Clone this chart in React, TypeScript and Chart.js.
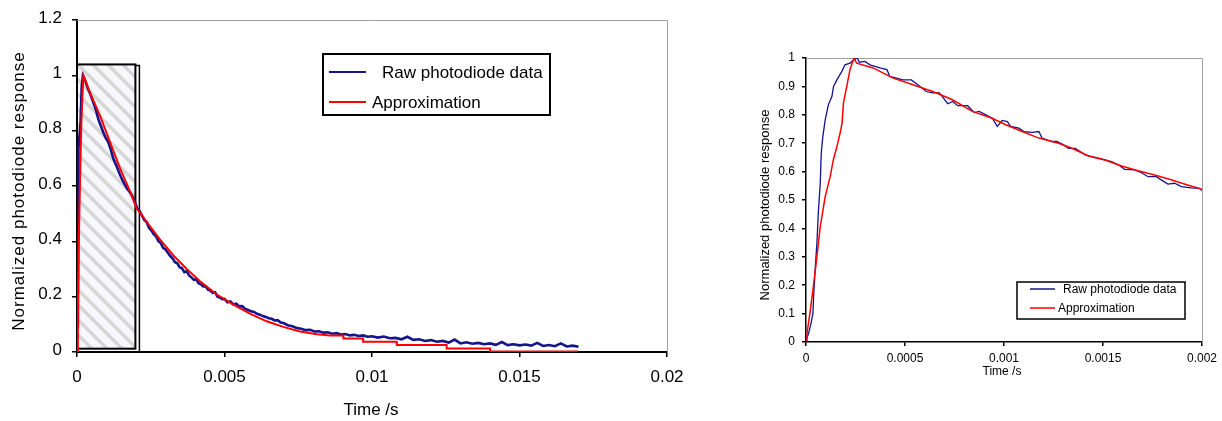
import React, { useEffect, useRef } from 'react';
import { Chart, registerables } from 'chart.js';

Chart.register(...registerables);

const FONT = "'Liberation Sans', Arial, sans-serif";
const RAW_COLOR = '#14148c';
const APPROX_COLOR = '#ff0000';

const seriesLabels = ['Raw photodiode data', 'Approximation'];
const xTitle = 'Time /s';
const yTitle = 'Normalized photodiode response';

// ---------- Left chart (full decay) ----------
const leftXTicks = [0, 0.005, 0.01, 0.015, 0.02];
const leftXTickLabels = ['0', '0.005', '0.01', '0.015', '0.02'];
const leftYTicks = [0, 0.2, 0.4, 0.6, 0.8, 1, 1.2];
const leftYTickLabels = ['0', '0.2', '0.4', '0.6', '0.8', '1', '1.2'];

const leftRawT = [
  0.00003, 0.00004, 0.00005, 0.00012, 0.00016, 0.0002, 0.00025, 0.00038, 0.00046, 0.00055,
  0.00063, 0.00072, 0.0008, 0.00089, 0.00097, 0.00106, 0.00115, 0.00123, 0.00135, 0.00146,
  0.00157, 0.00169, 0.00178, 0.00185, 0.00195, 0.00204,
  0.00212, 0.0022, 0.00228, 0.00236, 0.00244, 0.00252, 0.0026, 0.00268, 0.00276, 0.00284,
  0.00292, 0.003, 0.00308, 0.00316, 0.00324, 0.00332, 0.0034, 0.00348, 0.00356, 0.00364,
  0.00372, 0.0038, 0.00388, 0.00396, 0.00404, 0.00412, 0.0042, 0.00428, 0.00436, 0.00444,
  0.00452, 0.0046, 0.00468, 0.00476, 0.00484, 0.00492, 0.005,
  0.0051, 0.0052, 0.0053, 0.0054, 0.0055, 0.0056, 0.0057, 0.0058, 0.0059, 0.006,
  0.0061, 0.0062, 0.0063, 0.0064, 0.0065, 0.0066, 0.0067, 0.0068, 0.0069, 0.007,
  0.00715, 0.0073, 0.00745, 0.0076, 0.00775, 0.0079, 0.00805, 0.0082, 0.00835, 0.0085,
  0.00865, 0.0088, 0.00895, 0.0091, 0.00925, 0.0094, 0.00955, 0.0097, 0.00985, 0.01,
  0.0102, 0.0104, 0.0106, 0.0108, 0.011, 0.0112, 0.0114, 0.0116, 0.0118, 0.012,
  0.0122, 0.0124, 0.0126, 0.0128, 0.013, 0.0132, 0.0134, 0.0136, 0.0138, 0.014,
  0.0142, 0.0144, 0.0146, 0.0148, 0.015, 0.0152, 0.0154, 0.0156, 0.0158, 0.016,
  0.0162, 0.0164, 0.0166, 0.0168, 0.017,
];
const leftRawV = [
  0.086, 0.41, 0.735, 0.83, 0.96, 1.0, 0.99, 0.95, 0.93, 0.903,
  0.88, 0.843, 0.82, 0.795, 0.775, 0.759, 0.73, 0.7, 0.67, 0.64,
  0.615, 0.592, 0.58, 0.568, 0.545, 0.52,
  0.51, 0.494, 0.478, 0.47, 0.449, 0.44, 0.426, 0.418, 0.401, 0.394,
  0.377, 0.371, 0.359, 0.347, 0.339, 0.325, 0.321, 0.307, 0.303, 0.289,
  0.292, 0.277, 0.27, 0.261, 0.263, 0.249, 0.245, 0.237, 0.238, 0.225,
  0.222, 0.214, 0.216, 0.201, 0.197, 0.191, 0.192,
  0.18, 0.183, 0.172, 0.175, 0.165, 0.166, 0.156, 0.152, 0.147, 0.145,
  0.138, 0.135, 0.13, 0.127, 0.122, 0.12, 0.114, 0.115, 0.107, 0.105,
  0.097, 0.093, 0.087, 0.084, 0.079, 0.08, 0.074, 0.075, 0.07, 0.071,
  0.066, 0.068, 0.063, 0.065, 0.06, 0.062, 0.058, 0.06, 0.055, 0.057,
  0.052, 0.056, 0.05, 0.051, 0.046, 0.055, 0.044, 0.046, 0.04, 0.043,
  0.037, 0.04, 0.034, 0.045, 0.031, 0.035, 0.03, 0.033, 0.028, 0.031,
  0.026, 0.036, 0.025, 0.028, 0.024, 0.027, 0.023, 0.033, 0.022, 0.025,
  0.021, 0.031, 0.02, 0.023, 0.019,
];

const leftApproxT = [
  0, 0.00003, 0.00006, 0.0001, 0.00014, 0.00018, 0.00022, 0.00044, 0.00078, 0.00112,
  0.00146, 0.0018, 0.00202, 0.00236, 0.00281, 0.00326, 0.00372, 0.00417, 0.00474, 0.0053,
  0.00586, 0.00643, 0.00699, 0.00756, 0.00813, 0.00858, 0.00903, 0.00903, 0.0097, 0.0097,
  0.01084, 0.01084, 0.01253, 0.01253, 0.014, 0.014, 0.01698,
];
const leftApproxV = [
  0, 0.15, 0.4, 0.6, 0.8, 0.92, 1.0, 0.938, 0.855, 0.759,
  0.664, 0.58, 0.52, 0.471, 0.407, 0.35, 0.3, 0.256, 0.208, 0.171,
  0.139, 0.111, 0.091, 0.074, 0.064, 0.06, 0.06, 0.049, 0.049, 0.037,
  0.037, 0.025, 0.025, 0.013, 0.013, 0.002, 0.002,
];

// highlighted zoom window (in data units)
const zoomWindowX = [0, 0.00198];
const zoomWindowY = [0.012, 1.04];

// ---------- Right chart (first 2 ms) ----------
const rightXTicks = [0, 0.0005, 0.001, 0.0015, 0.002];
const rightXTickLabels = ['0', '0.0005', '0.001', '0.0015', '0.002'];
const rightYTicks = [0, 0.1, 0.2, 0.3, 0.4, 0.5, 0.6, 0.7, 0.8, 0.9, 1];
const rightYTickLabels = ['0', '0.1', '0.2', '0.3', '0.4', '0.5', '0.6', '0.7', '0.8', '0.9', '1'];

const rightRawT = [
  0, 0.000013, 0.000025, 0.000035, 0.000038, 0.000043, 0.000047, 0.000055, 0.000063, 0.000072,
  0.000077, 0.000085, 0.000097, 0.000113, 0.000131, 0.000139, 0.000156, 0.000181, 0.000197, 0.000222,
  0.000247, 0.000259, 0.000269, 0.000298, 0.000323, 0.000373, 0.000409, 0.000423, 0.000457, 0.00049,
  0.000532, 0.000565, 0.000607, 0.00064, 0.000674, 0.000716, 0.000741, 0.000766, 0.000816, 0.00085,
  0.000875, 0.000908, 0.000941, 0.000966, 0.000991, 0.001017, 0.001034, 0.001075, 0.0011, 0.001142,
  0.001176, 0.001192, 0.001242, 0.001267, 0.001301, 0.001326, 0.00136, 0.00141, 0.001443, 0.001476,
  0.00151, 0.001543, 0.001577, 0.00161, 0.00166, 0.001694, 0.001728, 0.001769, 0.001794, 0.001828,
  0.001862, 0.001895, 0.001945, 0.001987, 0.002,
];
const rightRawV = [
  0.005, 0.03, 0.065, 0.1, 0.153, 0.218, 0.265, 0.347, 0.465, 0.559,
  0.665, 0.723, 0.782, 0.835, 0.865, 0.9, 0.923, 0.953, 0.976, 0.982,
  0.996, 1.0, 0.985, 0.988, 0.976, 0.965, 0.959, 0.935, 0.929, 0.923,
  0.923, 0.906, 0.882, 0.877, 0.877, 0.839, 0.847, 0.832, 0.832, 0.808,
  0.812, 0.8, 0.788, 0.759, 0.78, 0.776, 0.759, 0.753, 0.741, 0.738,
  0.741, 0.718, 0.706, 0.706, 0.694, 0.682, 0.682, 0.659, 0.653, 0.647,
  0.641, 0.635, 0.624, 0.608, 0.606, 0.596, 0.582, 0.582, 0.571, 0.556,
  0.559, 0.547, 0.543, 0.541, 0.533,
];

const rightApproxT = [
  0, 0.000005, 0.000022, 0.000038, 0.000055, 0.000072, 0.000097, 0.000122, 0.000138, 0.000156,
  0.000172, 0.000182, 0.000189, 0.000206, 0.000222, 0.000242, 0.000256, 0.000339, 0.00044, 0.00054,
  0.00064, 0.00074, 0.00084, 0.00094, 0.001009, 0.001092, 0.001176, 0.001276, 0.001343, 0.001427,
  0.00151, 0.001594, 0.001677, 0.001761, 0.001844, 0.001927, 0.002,
];
const rightApproxV = [
  0.005, 0.03, 0.112, 0.2, 0.3, 0.406, 0.512, 0.582, 0.641, 0.688,
  0.735, 0.77, 0.841, 0.9, 0.959, 1.0, 0.982, 0.965, 0.929, 0.906,
  0.882, 0.853, 0.812, 0.788, 0.765, 0.741, 0.718, 0.7, 0.682, 0.655,
  0.641, 0.62, 0.603, 0.588, 0.571, 0.553, 0.538,
];

const toPoints = (t: number[], v: number[]) => t.map((x, i) => ({ x, y: v[i] }));

// ---------- plugins ----------
function framePlugin(color: string) {
  return {
    id: 'frame',
    beforeDatasetsDraw(chart: any) {
      const { ctx, chartArea: a } = chart;
      ctx.save();
      ctx.strokeStyle = color;
      ctx.lineWidth = 1;
      ctx.beginPath();
      ctx.moveTo(a.left, Math.round(a.top) + 0.5);
      ctx.lineTo(Math.round(a.right) + 0.5, Math.round(a.top) + 0.5);
      ctx.lineTo(Math.round(a.right) + 0.5, a.bottom);
      ctx.stroke();
      ctx.restore();
    },
  };
}

function hatchPlugin(xr: number[], yr: number[]) {
  return {
    id: 'hatchBox',
    beforeDatasetsDraw(chart: any) {
      const { ctx, scales } = chart;
      const l = scales.x.getPixelForValue(xr[0]);
      const r = scales.x.getPixelForValue(xr[1]);
      const t = scales.y.getPixelForValue(yr[1]);
      const b = scales.y.getPixelForValue(yr[0]);
      ctx.save();
      // shadow
      ctx.strokeStyle = '#000';
      ctx.lineWidth = 1.5;
      ctx.beginPath();
      ctx.moveTo(r, t + 1);
      ctx.lineTo(r + 4, t + 1);
      ctx.lineTo(r + 4, b + 4);
      ctx.stroke();
      // fill
      ctx.fillStyle = '#f8f8fc';
      ctx.fillRect(l, t, r - l, b - t);
      // stripes
      ctx.save();
      ctx.beginPath();
      ctx.rect(l, t, r - l, b - t);
      ctx.clip();
      ctx.strokeStyle = '#d6d6d6';
      ctx.lineWidth = 3.5;
      const h = b - t;
      for (let s = l - h; s < r + 15; s += 15) {
        ctx.beginPath();
        ctx.moveTo(s, t);
        ctx.lineTo(s + h, b);
        ctx.stroke();
      }
      ctx.restore();
      ctx.strokeStyle = '#000';
      ctx.lineWidth = 2;
      ctx.strokeRect(l, t, r - l, b - t);
      ctx.restore();
    },
  };
}

interface LegendSpec {
  box: [number, number, number, number];
  lineX: [number, number];
  rowY: number[];
  textX: number[];
  fontSize: number;
  borderWidth: number;
  lineWidth: number;
}

function boxLegendPlugin(spec: LegendSpec) {
  return {
    id: 'boxLegend',
    afterDraw(chart: any) {
      const { ctx } = chart;
      const [bx, by, bw, bh] = spec.box;
      ctx.save();
      ctx.fillStyle = '#fff';
      ctx.fillRect(bx, by, bw, bh);
      ctx.strokeStyle = '#000';
      ctx.lineWidth = spec.borderWidth;
      ctx.strokeRect(bx, by, bw, bh);
      chart.data.datasets.forEach((ds: any, i: number) => {
        ctx.strokeStyle = ds.borderColor;
        ctx.lineWidth = spec.lineWidth;
        ctx.beginPath();
        ctx.moveTo(spec.lineX[0], spec.rowY[i]);
        ctx.lineTo(spec.lineX[1], spec.rowY[i]);
        ctx.stroke();
        ctx.fillStyle = '#000';
        ctx.font = `${spec.fontSize}px ${FONT}`;
        ctx.textAlign = 'left';
        ctx.textBaseline = 'middle';
        ctx.fillText(ds.label, spec.textX[i], spec.rowY[i] + 1);
      });
      ctx.restore();
    },
  };
}

interface TitleSpec {
  x: { cx: number; cy: number; size: number };
  y: { cx: number; cy: number; size: number; spacing: number };
}

function titlesPlugin(spec: TitleSpec) {
  return {
    id: 'axisTitles',
    afterDraw(chart: any) {
      const { ctx } = chart;
      ctx.save();
      ctx.fillStyle = '#000';
      ctx.textAlign = 'center';
      ctx.textBaseline = 'middle';
      ctx.font = `${spec.x.size}px ${FONT}`;
      ctx.fillText(xTitle, spec.x.cx, spec.x.cy);
      ctx.translate(spec.y.cx, spec.y.cy);
      ctx.rotate(-Math.PI / 2);
      ctx.font = `${spec.y.size}px ${FONT}`;
      (ctx as any).letterSpacing = `${spec.y.spacing}px`;
      ctx.fillText(yTitle, 0, 0);
      ctx.restore();
    },
  };
}

interface ChartSpec {
  width: number;
  height: number;
  area: { left: number; top: number; right: number; bottom: number };
  xTicks: number[];
  xLabels: string[];
  yTicks: number[];
  yLabels: string[];
  xMax: number;
  yMax: number;
  raw: { x: number; y: number }[];
  approx: { x: number; y: number }[];
  fontSize: number;
  tickLength: number;
  yPad: number;
  yLabelOffset: number;
  xPad: number;
  axisWidth: number;
  rawWidth: number;
  approxWidth: number;
  plugins: any[];
}

function buildConfig(s: ChartSpec): any {
  const tickFont = { family: FONT, size: s.fontSize };
  return {
    type: 'line',
    data: {
      datasets: [
        {
          label: seriesLabels[0],
          data: s.raw,
          borderColor: RAW_COLOR,
          borderWidth: s.rawWidth,
          pointRadius: 0,
          tension: 0,
          order: 2,
        },
        {
          label: seriesLabels[1],
          data: s.approx,
          borderColor: APPROX_COLOR,
          borderWidth: s.approxWidth,
          pointRadius: 0,
          tension: 0,
          order: 1,
        },
      ],
    },
    options: {
      responsive: false,
      animation: false,
      devicePixelRatio: 1,
      layout: {
        padding: { left: 0, top: s.area.top, right: s.width - s.area.right, bottom: 0 },
      },
      plugins: { legend: { display: false }, tooltip: { enabled: false } },
      scales: {
        x: {
          type: 'linear',
          min: 0,
          max: s.xMax,
          afterFit: (sc: any) => {
            sc.height = s.height - s.area.bottom;
          },
          afterBuildTicks: (sc: any) => {
            sc.ticks = s.xTicks.map((value) => ({ value }));
          },
          ticks: {
            autoSkip: false,
            maxRotation: 0,
            padding: s.xPad,
            color: '#000',
            font: tickFont,
            callback: (_v: any, i: number) => s.xLabels[i],
          },
          grid: {
            drawOnChartArea: false,
            drawTicks: true,
            tickLength: s.tickLength,
            color: '#000',
            lineWidth: 1.5,
          },
          border: { display: true, color: '#000', width: s.axisWidth },
        },
        y: {
          type: 'linear',
          min: 0,
          max: s.yMax,
          afterFit: (sc: any) => {
            sc.width = s.area.left;
          },
          afterBuildTicks: (sc: any) => {
            sc.ticks = s.yTicks.map((value) => ({ value }));
          },
          ticks: {
            autoSkip: false,
            padding: s.yPad,
            labelOffset: s.yLabelOffset,
            color: '#000',
            font: tickFont,
            callback: (_v: any, i: number) => s.yLabels[i],
          },
          grid: {
            drawOnChartArea: false,
            drawTicks: true,
            tickLength: s.tickLength,
            color: '#000',
            lineWidth: 1.5,
          },
          border: { display: true, color: '#000', width: s.axisWidth },
        },
      },
    },
    plugins: s.plugins,
  };
}

const LEFT_W = 700;
const RIGHT_X = 730;
const RIGHT_W = 492;
const H = 421;

export default function App() {
  const leftRef = useRef<HTMLCanvasElement | null>(null);
  const rightRef = useRef<HTMLCanvasElement | null>(null);

  useEffect(() => {
    const left = new Chart(
      leftRef.current as HTMLCanvasElement,
      buildConfig({
        width: LEFT_W,
        height: H,
        area: { left: 77, top: 17, right: 667, bottom: 352 },
        xTicks: leftXTicks,
        xLabels: leftXTickLabels,
        yTicks: leftYTicks,
        yLabels: leftYTickLabels,
        xMax: 0.02,
        yMax: 1.2,
        raw: toPoints(leftRawT, leftRawV),
        approx: toPoints(leftApproxT, leftApproxV),
        fontSize: 17,
        tickLength: 5,
        yPad: 10,
        yLabelOffset: -2,
        xPad: 10,
        axisWidth: 2,
        rawWidth: 2.6,
        approxWidth: 2,
        plugins: [
          framePlugin('#a0a0a0'),
          hatchPlugin(zoomWindowX, zoomWindowY),
          boxLegendPlugin({
            box: [323, 54, 227, 61],
            lineX: [329, 366],
            rowY: [72, 102],
            textX: [382, 372],
            fontSize: 17,
            borderWidth: 2,
            lineWidth: 2,
          }),
          titlesPlugin({
            x: { cx: 371, cy: 410, size: 17 },
            y: { cx: 19, cy: 191, size: 17, spacing: 1 },
          }),
        ],
      })
    );

    const right = new Chart(
      rightRef.current as HTMLCanvasElement,
      buildConfig({
        width: RIGHT_W,
        height: H,
        area: { left: 76, top: 58, right: 474, bottom: 342 },
        xTicks: rightXTicks,
        xLabels: rightXTickLabels,
        yTicks: rightYTicks,
        yLabels: rightYTickLabels,
        xMax: 0.002,
        yMax: 1,
        raw: toPoints(rightRawT, rightRawV),
        approx: toPoints(rightApproxT, rightApproxV),
        fontSize: 12,
        tickLength: 4,
        yPad: 7,
        yLabelOffset: 0,
        xPad: 5,
        axisWidth: 1.5,
        rawWidth: 1.3,
        approxWidth: 1.5,
        plugins: [
          framePlugin('#a0a0a0'),
          boxLegendPlugin({
            box: [287, 282, 168, 37],
            lineX: [300, 325],
            rowY: [289, 308],
            textX: [333, 328],
            fontSize: 12,
            borderWidth: 1.5,
            lineWidth: 1.5,
          }),
          titlesPlugin({
            x: { cx: 272, cy: 372, size: 12 },
            y: { cx: 35, cy: 205, size: 13, spacing: 0 },
          }),
        ],
      })
    );

    return () => {
      left.destroy();
      right.destroy();
    };
  }, []);

  return (
    <div style={{ position: 'absolute', left: 0, top: 0, width: 1222, height: H, background: '#fff' }}>
      <canvas
        ref={leftRef}
        width={LEFT_W}
        height={H}
        style={{ position: 'absolute', left: 0, top: 0, width: LEFT_W, height: H }}
      />
      <canvas
        ref={rightRef}
        width={RIGHT_W}
        height={H}
        style={{ position: 'absolute', left: RIGHT_X, top: 0, width: RIGHT_W, height: H }}
      />
    </div>
  );
}
